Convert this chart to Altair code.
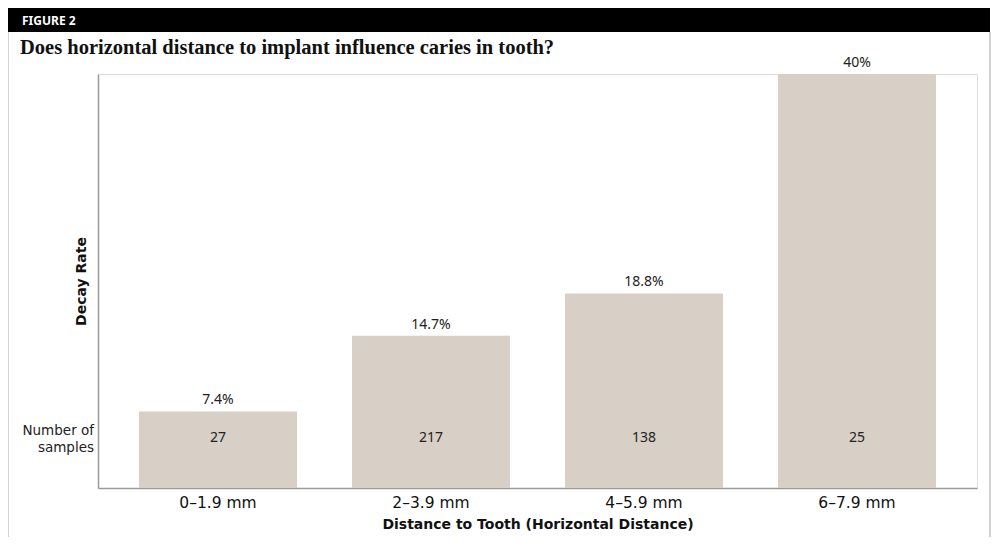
import altair as alt
import pandas as pd

categories = ["0–1.9 mm", "2–3.9 mm", "4–5.9 mm", "6–7.9 mm"]
decay_rate = [7.4, 14.7, 18.8, 40]
rate_labels = ["7.4%", "14.7%", "18.8%", "40%"]
samples = [27, 217, 138, 25]

df = pd.DataFrame({"cat": categories, "rate": decay_rate, "lbl": rate_labels, "n": samples})
one = pd.DataFrame({"a": [0]})

FONT = "Noto Sans"
WIDE = "DejaVu Sans"
W, H = 879, 414

x = alt.X("cat:N", sort=None,
          scale=alt.Scale(paddingInner=0.258, paddingOuter=0.1925),
          axis=alt.Axis(title="Distance to Tooth (Horizontal Distance)", labelAngle=0,
                        ticks=False, domainColor="#9a9a9a", domainWidth=1.5,
                        labelFont=WIDE, labelFontSize=15.5, labelColor="#111", labelPadding=7,
                        titleFont=WIDE, titleFontSize=14, titleFontWeight="bold",
                        titleColor="#111", titlePadding=7))
y = alt.Y("rate:Q", scale=alt.Scale(domain=[0, 40], nice=False),
          axis=alt.Axis(title="Decay Rate", labels=False, ticks=False, grid=False,
                        domainColor="#9a9a9a", domainWidth=1.5,
                        titleFont=WIDE, titleFontSize=14, titleFontWeight="bold",
                        titleColor="#111", titlePadding=10))

bars = alt.Chart(df).mark_bar(color="#d8cfc6").encode(x=x, y=y)
pct = alt.Chart(df).mark_text(font=FONT, fontSize=14, color="#222", dy=-7,
                              baseline="alphabetic").encode(x=x, y=y, text="lbl:N")
nums = alt.Chart(df).mark_text(font=FONT, fontSize=14, color="#222", baseline="middle").encode(
    x=x, y=alt.value(364), text="n:Q")

samp_lbl1 = alt.Chart(one).mark_text(font=WIDE, fontSize=13.5, color="#222", align="right",
                                      baseline="middle").encode(
    x=alt.value(-4), y=alt.value(357), text=alt.value("Number of"))
samp_lbl2 = alt.Chart(one).mark_text(font=WIDE, fontSize=13.5, color="#222", align="right",
                                      baseline="middle").encode(
    x=alt.value(-4), y=alt.value(374), text=alt.value("samples"))

header = alt.Chart(one).mark_rect(color="#000").encode(
    x=alt.value(-90), x2=alt.value(892), y=alt.value(-67), y2=alt.value(-42))
fig_txt = alt.Chart(one).mark_text(font=FONT, fontSize=12, fontWeight="bold", color="#fff",
                                    align="left", baseline="alphabetic").encode(
    x=alt.value(-76), y=alt.value(-49), text=alt.value("FIGURE 2"))
title_txt = alt.Chart(one).mark_text(font="Liberation Serif", fontSize=20.5, fontWeight="bold",
                                      color="#111", align="left", baseline="alphabetic").encode(
    x=alt.value(-78), y=alt.value(-20),
    text=alt.value("Does horizontal distance to implant influence caries in tooth?"))
left_border = alt.Chart(one).mark_rule(color="#c4c4c4", strokeWidth=1.5).encode(
    x=alt.value(-90), y=alt.value(-42), y2=alt.value(463))
right_border = alt.Chart(one).mark_rule(color="#c4c4c4", strokeWidth=1.5).encode(
    x=alt.value(892), y=alt.value(-42), y2=alt.value(463))

chart = alt.layer(bars, pct, nums, samp_lbl1, samp_lbl2, header, fig_txt, title_txt,
                  left_border, right_border).properties(
    width=W, height=H,
    autosize=alt.AutoSizeParams(type="none"),
    padding={"left": 90, "top": 66, "right": 15, "bottom": 52},
).configure_view(stroke=None).configure(background="#ffffff")

chart.save("out.html", embed_options={"renderer": "svg", "actions": False})
